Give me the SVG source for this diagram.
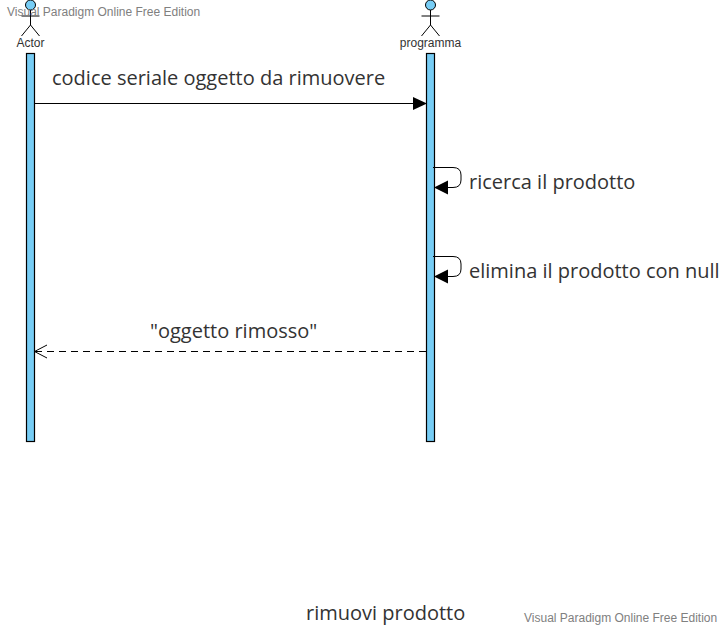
<svg xmlns="http://www.w3.org/2000/svg" width="723" height="627" viewBox="0 0 723 627">
<style>
.bar{fill:#77CDF5;stroke:#000;stroke-width:1.2}
.st{fill:none;stroke:#000;stroke-width:1}
.head{fill:#77CDF5;stroke:#000;stroke-width:1}
.small{font:12px "Liberation Sans",Arial,sans-serif;fill:#333}
.wm{font:12px "Liberation Sans",Arial,sans-serif;fill:#808080}
.lab{font:20px "Open Sans",sans-serif;fill:#333}
.ln{fill:none;stroke:#000;stroke-width:1}
.fh{fill:#000;stroke:none}
</style>
<rect width="723" height="627" fill="#fff"/>
<g id="actor">
<rect class="bar" x="26.5" y="53.5" width="8" height="388"/>
<circle class="head" cx="30.5" cy="5" r="5"/>
<path class="st" d="M30.5 10V25M21.500 16H39.500M21.500 36L30.500 25L39.500 36"/>
<text class="small" x="30.500" y="47" text-anchor="middle">Actor</text>
</g>
<g id="programma">
<rect class="bar" x="426.5" y="53.5" width="8" height="388"/>
<circle class="head" cx="430.5" cy="5" r="5"/>
<path class="st" d="M430.5 10V25M421.500 16H439.500M421.500 36L430.500 25L439.500 36"/>
<text class="small" x="430.500" y="47" text-anchor="middle">programma</text>
</g>
<g id="connectors">
<path class="ln" d="M34 103.500H414"/>
<path class="fh" d="M413 97L427 103.500L413 110Z"/>
<path class="ln" d="M433 167.500H453Q461 167.500 461 175V180Q461 187.500 453 187.500H447"/>
<path class="fh" d="M448 180.500L434 187.500L448 194.500Z"/>
<path class="ln" d="M433 256.500H453Q461 256.500 461 264V269Q461 276.500 453 276.500H447"/>
<path class="fh" d="M448 269.500L434 276.500L448 283.500Z"/>
<path class="ln" stroke-dasharray="7 5" d="M426 351.500H35"/>
<path class="ln" d="M47 345L34.500 351.500L47 358"/>
</g>
<g id="labels">
<text class="lab" x="52" y="85">codice seriale oggetto da rimuovere</text>
<text class="lab" x="469" y="189">ricerca il prodotto</text>
<text class="lab" x="469" y="278">elimina il prodotto con null</text>
<text class="lab" x="150" y="338">"oggetto rimosso"</text>
<text class="lab" x="306" y="620">rimuovi prodotto</text>
<text class="wm" x="7" y="16">Visual Paradigm Online Free Edition</text>
<text class="wm" x="524" y="622">Visual Paradigm Online Free Edition</text>
</g>
</svg>
